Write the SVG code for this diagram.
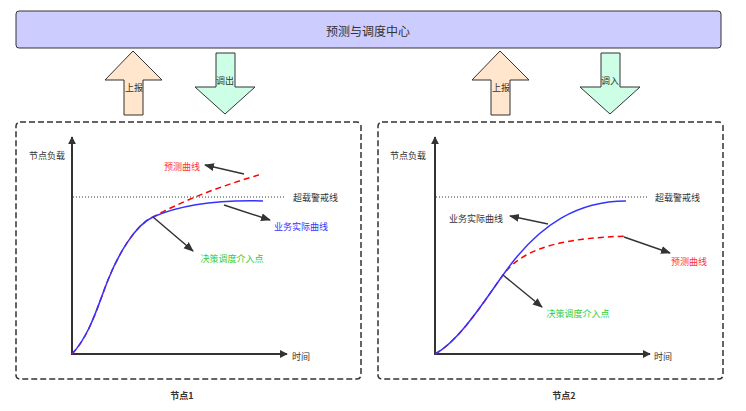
<svg xmlns="http://www.w3.org/2000/svg" width="746" height="411" viewBox="0 0 746 411">
<style>
text{font-family:"Noto Sans CJK SC","Liberation Sans",sans-serif;font-size:9px;fill:#333;}
.t{text-anchor:middle;dominant-baseline:central;}
.l{dominant-baseline:central;}
.box{fill:none;stroke:#333;stroke-width:1.5;stroke-dasharray:6 3;}
.up{fill:#ffe6cc;stroke:#333;stroke-width:1;}
.down{fill:#ccffe6;stroke:#333;stroke-width:1;}
.axis{fill:none;stroke:#333;stroke-width:2;}
.ptr{fill:none;stroke:#333;stroke-width:1.5;}
.dot{fill:none;stroke:#333;stroke-width:1;stroke-dasharray:1 2;}
.blue{fill:none;stroke:#3333ff;stroke-width:1.5;}
.red{fill:none;stroke:#ff0000;stroke-width:1.5;stroke-dasharray:6 4;}
</style>
<defs>
<marker id="ah" viewBox="0 0 10 10" refX="9" refY="5" markerWidth="8" markerHeight="8" markerUnits="userSpaceOnUse" orient="auto"><path d="M0,0 L10,5 L0,10 Z" fill="#333"/></marker>
<marker id="ap" viewBox="0 0 10 10" refX="9" refY="5" markerWidth="10" markerHeight="10" markerUnits="userSpaceOnUse" orient="auto"><path d="M0,1 L10,5 L0,9 Z" fill="#333"/></marker>
</defs>
<rect width="746" height="411" fill="#fff"/>
<g id="center">
<rect x="16" y="11" width="705" height="37" rx="3" fill="#ccccff" stroke="#333" stroke-width="1"/>
<text class="t" x="368" y="30" style="font-size:12px">预测与调度中心</text>
</g>
<g id="arrow-up1">
<path class="up" d="M133,51 L162,80 L143,80 L143,115 L124,115 L124,80 L105,80 Z"/>
<text class="t" x="134" y="87">上报</text>
</g>
<g id="arrow-down1">
<path class="down" d="M216,53 L235,53 L235,87 L255,87 L225,114 L195,87 L216,87 Z"/>
<text class="t" x="225" y="80">调出</text>
</g>
<g id="arrow-up2">
<path class="up" d="M500,51 L529,80 L510,80 L510,115 L491,115 L491,80 L472,80 Z"/>
<text class="t" x="501" y="87">上报</text>
</g>
<g id="arrow-down2">
<path class="down" d="M601,53 L620,53 L620,87 L640,87 L610,114 L580,87 L601,87 Z"/>
<text class="t" x="610" y="80">调入</text>
</g>
<g id="node1">
<rect class="box" x="16" y="122" width="345" height="257" rx="4"/>
<text class="t" x="182" y="395" style="font-weight:bold">节点1</text>
<text class="t" x="47" y="155">节点负载</text>
<text class="l" x="292" y="356">时间</text>
<text class="l" x="293" y="197">超载警戒线</text>
<text class="t" x="182" y="166" style="fill:#ff3333">预测曲线</text>
<text class="t" x="301" y="226" style="fill:#3333ff">业务实际曲线</text>
<text class="t" x="232" y="258" style="fill:#33cc33">决策调度介入点</text>
</g>
<g id="node2">
<rect class="box" x="378" y="122" width="345" height="257" rx="4"/>
<text class="t" x="564" y="395" style="font-weight:bold">节点2</text>
<text class="t" x="408" y="155">节点负载</text>
<text class="l" x="654" y="356">时间</text>
<text class="l" x="655" y="197">超载警戒线</text>
<text class="t" x="476" y="218">业务实际曲线</text>
<text class="t" x="689" y="261" style="fill:#ff3333">预测曲线</text>
<text class="t" x="578" y="313" style="fill:#33cc33">决策调度介入点</text>
</g>
<g id="connectors">
<line class="axis" x1="72" y1="355" x2="72" y2="137" marker-end="url(#ah)"/>
<line class="axis" x1="71" y1="354" x2="287" y2="354" marker-end="url(#ah)"/>
<line class="dot" x1="73" y1="197" x2="286" y2="197"/>
<path class="red" d="M72,354 C90,335 98,305 108,280 C118,255 135,225 153,217 C190,197 225,185 262,174"/>
<path class="blue" d="M72,354 C90,335 98,305 108,280 C118,255 135,225 153,217 C185,203 225,200 263,201"/>
<line class="ptr" x1="244" y1="174" x2="205" y2="165" marker-end="url(#ap)"/>
<line class="ptr" x1="224" y1="205" x2="270" y2="220" marker-end="url(#ap)"/>
<line class="ptr" x1="153" y1="217" x2="193" y2="251" marker-end="url(#ap)"/>
<line class="axis" x1="435" y1="355" x2="435" y2="137" marker-end="url(#ah)"/>
<line class="axis" x1="434" y1="354" x2="650" y2="354" marker-end="url(#ah)"/>
<line class="dot" x1="436" y1="197" x2="648" y2="197"/>
<path class="red" d="M435,354 C460,340 485,300 503,275 C525,245 570,238 628,236"/>
<path class="blue" d="M435,354 C460,340 485,300 503,275 C540,222 580,201 626,201"/>
<line class="ptr" x1="548" y1="224" x2="510" y2="216" marker-end="url(#ap)"/>
<line class="ptr" x1="624" y1="237" x2="670" y2="253" marker-end="url(#ap)"/>
<line class="ptr" x1="503" y1="275" x2="542" y2="307" marker-end="url(#ap)"/>
</g>
</svg>
